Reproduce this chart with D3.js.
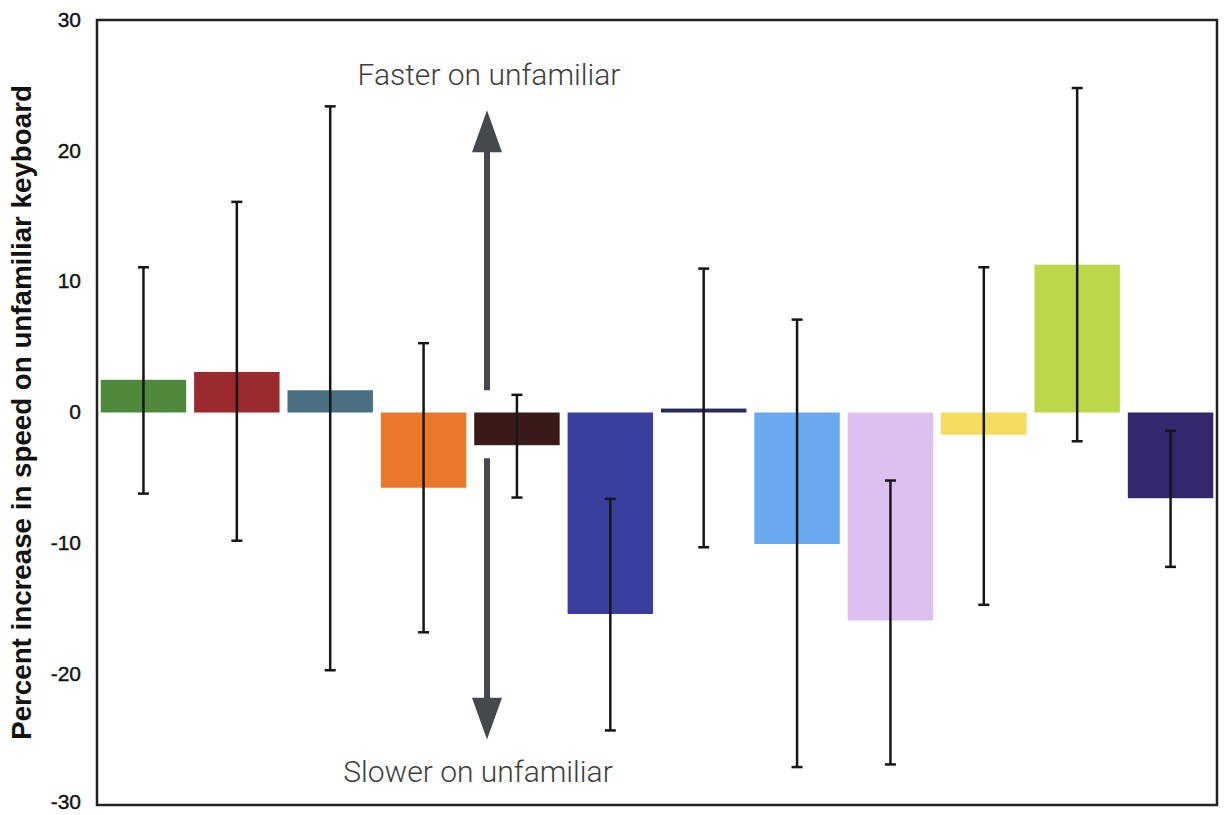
<!DOCTYPE html>
<html>
<head>
<meta charset="utf-8">
<script src="https://cdn.jsdelivr.net/npm/d3@7"></script>
<style>
  html, body { margin: 0; padding: 0; background: #fff; }
  svg { display: block; }
  .tick-label { font-family: "Liberation Sans", Arial, sans-serif; font-size: 21px; fill: #111; stroke: #111; stroke-width: 0.4px; }
  .y-title { font-family: "Liberation Sans", Arial, sans-serif; font-weight: bold; font-size: 23px; fill: #111; }
  .note { font-family: Roboto, "Noto Sans", sans-serif; font-weight: 300; font-size: 30px; fill: #3e3e3e; }
</style>
</head>
<body>
<svg id="chart"></svg>
<script>
// bars, left to right (no category labels are shown on the chart)
const categories = ['k1', 'k2', 'k3', 'k4', 'k5', 'k6', 'k7', 'k8', 'k9', 'k10', 'k11', 'k12'];
const means      = [2.5, 3.1, 1.7, -5.75, -2.5, -15.4, 0.3, -10.05, -15.9, -1.7, 11.3, -6.55];
const errHigh    = [11.1, 16.1, 23.4, 5.3, 1.35, -6.6, 11.0, 7.1, -5.2, 11.1, 24.8, -1.4];
const errLow     = [-6.2, -9.8, -19.7, -16.8, -6.5, -24.3, -10.3, -27.1, -26.9, -14.7, -2.2, -11.8];
const colors     = ['#4f8a3c', '#9b2a2e', '#4a6e82', '#e8782a', '#3a1a18', '#3a3f9f',
                    '#232b5a', '#6aa8f0', '#dcc0f0', '#f5dc60', '#bcd84a', '#34276b'];
const yTicks     = [30, 20, 10, 0, -10, -20, -30];

const W = 1224, H = 815;
const margin = { top: 20, right: 6, bottom: 10, left: 97 };

const svg = d3.select('#chart').attr('width', W).attr('height', H);

const x = d3.scaleBand()
  .domain(categories)
  .range([margin.left, W - margin.right - 1])
  .paddingInner(0.085)
  .paddingOuter(0.04);

const y = d3.scaleLinear()
  .domain([-30, 30])
  .range([H - margin.bottom, margin.top]);

// Bars
svg.append('g').selectAll('rect')
  .data(categories)
  .join('rect')
  .attr('x', d => x(d))
  .attr('width', x.bandwidth())
  .attr('y', (d, i) => y(Math.max(0, means[i])))
  .attr('height', (d, i) => Math.max(Math.abs(y(means[i]) - y(0)), 1))
  .attr('fill', (d, i) => colors[i]);

// Error bars
const capW = 11;
const eg = svg.append('g').attr('stroke', '#161616').attr('stroke-width', 2.5);
categories.forEach((c, i) => {
  const cx = x(c) + x.bandwidth() / 2;
  eg.append('line').attr('x1', cx).attr('x2', cx).attr('y1', y(errHigh[i])).attr('y2', y(errLow[i]));
  eg.append('line').attr('x1', cx - capW / 2).attr('x2', cx + capW / 2).attr('y1', y(errHigh[i])).attr('y2', y(errHigh[i]));
  eg.append('line').attr('x1', cx - capW / 2).attr('x2', cx + capW / 2).attr('y1', y(errLow[i])).attr('y2', y(errLow[i]));
});

// Frame
svg.append('rect')
  .attr('x', margin.left).attr('y', y(30))
  .attr('width', W - margin.right - margin.left - 1)
  .attr('height', y(-30) - y(30))
  .attr('fill', 'none').attr('stroke', '#222').attr('stroke-width', 2.5);

// Y axis labels (plain hyphen minus, as in the original)
const yAxis = d3.axisLeft(y).tickValues(yTicks).tickSize(0).tickPadding(16).tickFormat(d => String(d));
const ga = svg.append('g').attr('transform', `translate(${margin.left},0)`).call(yAxis);
ga.select('.domain').remove();
ga.attr('font-size', null).attr('font-family', null);
ga.selectAll('text').attr('class', 'tick-label').attr('dy', '0.3em');
// keep the bottom label inside the picture
ga.selectAll('.tick').filter(d => d === -30).select('text').attr('dy', '0.15em');

// Y title
const title = svg.append('text')
  .attr('class', 'y-title')
  .attr('transform', `translate(31,${y(0)}) rotate(-90)`)
  .attr('text-anchor', 'middle')
  .text('Percent increase in speed on unfamiliar keyboard');
const tl = title.node().getComputedTextLength();
title.style('font-size', (23 * 655 / tl).toFixed(2) + 'px');

// Direction arrow
const ax = 487;
const arrowColor = '#45484d';
const ag = svg.append('g');
ag.append('line').attr('x1', ax).attr('x2', ax).attr('y1', y(20.5)).attr('y2', y(1.7))
  .attr('stroke', arrowColor).attr('stroke-width', 6);
ag.append('line').attr('x1', ax).attr('x2', ax).attr('y1', y(-3.5)).attr('y2', y(-22.3))
  .attr('stroke', arrowColor).attr('stroke-width', 6);
ag.append('path')
  .attr('d', `M${ax},${y(23.1)} L${ax + 15},${y(19.9)} L${ax - 15},${y(19.9)} Z`)
  .attr('fill', arrowColor);
ag.append('path')
  .attr('d', `M${ax},${y(-25.0)} L${ax + 15},${y(-21.8)} L${ax - 15},${y(-21.8)} Z`)
  .attr('fill', arrowColor);

svg.append('text').attr('class', 'note')
  .attr('x', 489).attr('y', 85).attr('text-anchor', 'middle')
  .text('Faster on unfamiliar');
svg.append('text').attr('class', 'note')
  .attr('x', 478).attr('y', 782).attr('text-anchor', 'middle')
  .text('Slower on unfamiliar');
</script>
</body>
</html>
